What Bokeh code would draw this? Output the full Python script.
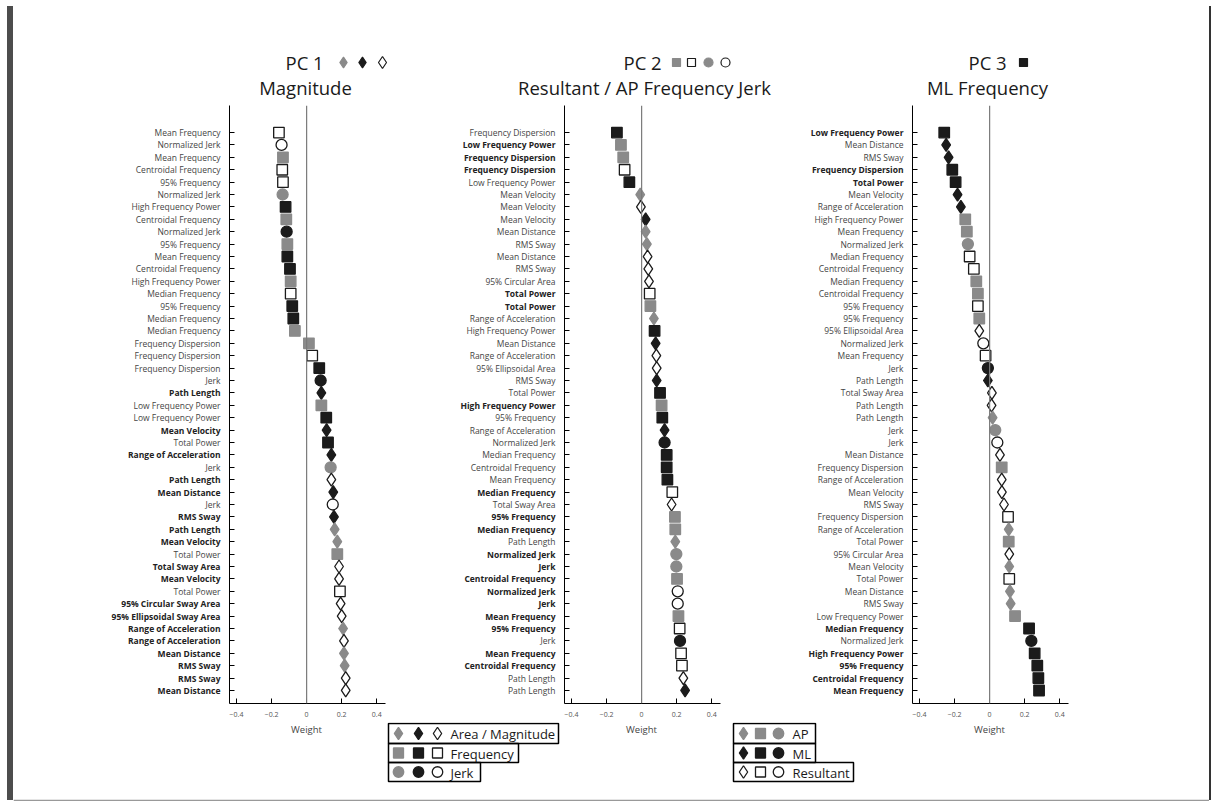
from bokeh.plotting import figure
from bokeh.models import ColumnDataSource, Span, FixedTicker, Range1d, Spacer, CustomJSTickFormatter
from bokeh.layouts import row, column
from bokeh.embed import file_html
from bokeh.resources import INLINE
from bokeh.core.properties import value

# ---------------- data ----------------
# direction: AP / ML / R (resultant); type: A (area/magnitude), F (frequency), J (jerk)
PC1_LABELS = ["Mean Frequency", "Normalized Jerk", "Mean Frequency", "Centroidal Frequency", "95% Frequency",
              "Normalized Jerk", "High Frequency Power", "Centroidal Frequency", "Normalized Jerk", "95% Frequency",
              "Mean Frequency", "Centroidal Frequency", "High Frequency Power", "Median Frequency", "95% Frequency",
              "Median Frequency", "Median Frequency", "Frequency Dispersion", "Frequency Dispersion",
              "Frequency Dispersion", "Jerk", "Path Length", "Low Frequency Power", "Low Frequency Power",
              "Mean Velocity", "Total Power", "Range of Acceleration", "Jerk", "Path Length", "Mean Distance",
              "Jerk", "RMS Sway", "Path Length", "Mean Velocity", "Total Power", "Total Sway Area",
              "Mean Velocity", "Total Power", "95% Circular Sway Area", "95% Ellipsoidal Sway Area",
              "Range of Acceleration", "Range of Acceleration", "Mean Distance", "RMS Sway", "RMS Sway",
              "Mean Distance"]
PC1_BOLD = [0, 0, 0, 0, 0, 0, 0, 0, 0, 0, 0, 0, 0, 0, 0, 0, 0, 0, 0, 0, 0, 1, 0, 0, 1, 0, 1, 0, 1, 1,
            0, 1, 1, 1, 0, 1, 1, 0, 1, 1, 1, 1, 1, 1, 1, 1]
PC1_WEIGHTS = [-0.158, -0.143, -0.135, -0.139, -0.135, -0.137, -0.120, -0.116, -0.114, -0.110,
               -0.110, -0.095, -0.091, -0.091, -0.082, -0.076, -0.067, 0.013, 0.032, 0.072,
               0.080, 0.084, 0.084, 0.112, 0.114, 0.122, 0.141, 0.137, 0.141, 0.152,
               0.149, 0.156, 0.160, 0.175, 0.175, 0.185, 0.185, 0.190, 0.194, 0.200,
               0.208, 0.213, 0.213, 0.217, 0.223, 0.223]
PC1_DIR = ["R", "R", "AP", "R", "R", "AP", "ML", "AP", "ML", "AP", "ML", "ML", "AP", "R", "ML", "ML", "AP",
           "AP", "R", "ML", "ML", "ML", "AP", "ML", "ML", "ML", "ML", "AP", "R", "ML", "R", "ML", "AP", "AP",
           "AP", "R", "R", "R", "R", "R", "AP", "R", "AP", "AP", "R", "R"]
PC1_TYPE = ["F", "J", "F", "F", "F", "J", "F", "F", "J", "F", "F", "F", "F", "F", "F", "F", "F", "F", "F", "F",
            "J", "A", "F", "F", "A", "F", "A", "J", "A", "A", "J", "A", "A", "A", "F", "A", "A", "F", "A", "A",
            "A", "A", "A", "A", "A", "A"]

PC2_LABELS = ["Frequency Dispersion", "Low Frequency Power", "Frequency Dispersion", "Frequency Dispersion",
              "Low Frequency Power", "Mean Velocity", "Mean Velocity", "Mean Velocity", "Mean Distance",
              "RMS Sway", "Mean Distance", "RMS Sway", "95% Circular Area", "Total Power", "Total Power",
              "Range of Acceleration", "High Frequency Power", "Mean Distance", "Range of Acceleration",
              "95% Ellipsoidal Area", "RMS Sway", "Total Power", "High Frequency Power", "95% Frequency",
              "Range of Acceleration", "Normalized Jerk", "Median Frequency", "Centroidal Frequency",
              "Mean Frequency", "Median Frequency", "Total Sway Area", "95% Frequency", "Median Frequency",
              "Path Length", "Normalized Jerk", "Jerk", "Centroidal Frequency", "Normalized Jerk", "Jerk",
              "Mean Frequency", "95% Frequency", "Jerk", "Mean Frequency", "Centroidal Frequency",
              "Path Length", "Path Length"]
PC2_BOLD = [0, 1, 1, 1, 0, 0, 0, 0, 0, 0, 0, 0, 0, 1, 1, 0, 0, 0, 0, 0, 0, 0, 1, 0, 0, 0, 0, 0, 0, 1,
            0, 1, 1, 0, 1, 1, 1, 1, 1, 1, 1, 0, 1, 1, 0, 0]
PC2_WEIGHTS = [-0.141, -0.118, -0.105, -0.097, -0.070, -0.008, -0.004, 0.023, 0.023, 0.030,
               0.034, 0.038, 0.042, 0.046, 0.050, 0.070, 0.074, 0.080, 0.084, 0.086,
               0.086, 0.105, 0.114, 0.118, 0.131, 0.131, 0.143, 0.143, 0.147, 0.175,
               0.171, 0.190, 0.192, 0.192, 0.198, 0.198, 0.202, 0.206, 0.206, 0.210,
               0.217, 0.219, 0.225, 0.230, 0.238, 0.248]
PC2_DIR = ["ML", "AP", "AP", "R", "ML", "AP", "R", "ML", "AP", "AP", "R", "R", "R", "R", "AP", "AP", "ML",
           "ML", "R", "R", "ML", "ML", "AP", "ML", "ML", "ML", "ML", "ML", "ML", "R", "R", "AP", "AP", "AP",
           "AP", "AP", "AP", "R", "R", "AP", "R", "ML", "R", "R", "R", "ML"]
PC2_TYPE = ["F", "F", "F", "F", "F", "A", "A", "A", "A", "A", "A", "A", "A", "F", "F", "A", "F", "A", "A", "A",
            "A", "F", "F", "F", "A", "J", "F", "F", "F", "F", "A", "F", "F", "A", "J", "J", "F", "J", "J", "F",
            "F", "J", "F", "F", "A", "A"]

PC3_LABELS = ["Low Frequency Power", "Mean Distance", "RMS Sway", "Frequency Dispersion", "Total Power",
              "Mean Velocity", "Range of Acceleration", "High Frequency Power", "Mean Frequency",
              "Normalized Jerk", "Median Frequency", "Centroidal Frequency", "Median Frequency",
              "Centroidal Frequency", "95% Frequency", "95% Frequency", "95% Ellipsoidal Area",
              "Normalized Jerk", "Mean Frequency", "Jerk", "Path Length", "Total Sway Area", "Path Length",
              "Path Length", "Jerk", "Jerk", "Mean Distance", "Frequency Dispersion", "Range of Acceleration",
              "Mean Velocity", "RMS Sway", "Frequency Dispersion", "Range of Acceleration", "Total Power",
              "95% Circular Area", "Mean Velocity", "Total Power", "Mean Distance", "RMS Sway",
              "Low Frequency Power", "Median Frequency", "Normalized Jerk", "High Frequency Power",
              "95% Frequency", "Centroidal Frequency", "Mean Frequency"]
PC3_BOLD = [1, 0, 0, 1, 1, 0, 0, 0, 0, 0, 0, 0, 0, 0, 0, 0, 0, 0, 0, 0, 0, 0, 0, 0, 0, 0, 0, 0, 0, 0,
            0, 0, 0, 0, 0, 0, 0, 0, 0, 0, 1, 0, 1, 1, 1, 1]
PC3_WEIGHTS = [-0.259, -0.248, -0.234, -0.213, -0.194, -0.183, -0.164, -0.139, -0.130, -0.124,
               -0.114, -0.090, -0.076, -0.067, -0.067, -0.059, -0.059, -0.036, -0.023, -0.010,
               -0.010, 0.013, 0.011, 0.017, 0.032, 0.044, 0.059, 0.069, 0.069, 0.070,
               0.082, 0.105, 0.109, 0.109, 0.112, 0.112, 0.112, 0.116, 0.120, 0.145,
               0.225, 0.238, 0.257, 0.272, 0.278, 0.282]
PC3_DIR = ["ML", "ML", "ML", "ML", "ML", "ML", "ML", "AP", "AP", "AP", "R", "R", "AP", "AP", "R", "AP", "R",
           "R", "R", "ML", "ML", "R", "R", "AP", "AP", "R", "R", "AP", "R", "R", "R", "R", "AP", "AP", "R",
           "AP", "R", "AP", "AP", "AP", "ML", "ML", "ML", "ML", "ML", "ML"]
PC3_TYPE = ["F", "A", "A", "F", "F", "A", "A", "F", "F", "J", "F", "F", "F", "F", "F", "F", "A", "J", "F", "J",
            "A", "A", "A", "A", "J", "J", "A", "F", "A", "A", "A", "F", "A", "F", "A", "A", "F", "A", "A", "F",
            "F", "J", "F", "F", "F", "F"]

TICKS = [-0.4, -0.2, 0, 0.2, 0.4]
TITLE_TOP = ["PC 1", "PC 2", "PC 3"]
TITLE_BOTTOM = ["Magnitude", "Resultant / AP Frequency Jerk", "ML Frequency"]
AXIS_TITLE = "Weight"
LEGEND_TYPES = ["Area / Magnitude", "Frequency", "Jerk"]
LEGEND_DIRS = ["AP", "ML", "Resultant"]

# ---------------- styles / layout ----------------
GRAY = "#8a8a8a"
BLACK = "#1b1b1b"
FONT = "Open Sans"
FILL = {"AP": GRAY, "ML": BLACK, "R": "white"}
EDGE = {"AP": GRAY, "ML": BLACK, "R": BLACK}
MARK = {"A": "diamond", "F": "square", "J": "circle"}
MSIZE = {"A": 13, "F": 10.5, "J": 11}
XR = (-0.44, 0.45)
YR = (-0.05, 48.18)
X0 = 13              # left edge of the inner content (after page bar)
X1 = 1209            # right edge of the inner content
WIDTH = X1 - X0
TOP_H = 104          # title strip height
ROW_H = 618          # panel row height
BOT_H = 79           # legend strip height
FR_TOP = 1
FR_BOT = 19
FRAME_W = 156
PAGE_BAR = "#4d4d4d"


def base_fig(width, height, xr, yr, top=0, bottom=0):
    f = figure(width=width, height=height, x_range=xr, y_range=yr, output_backend="svg",
               toolbar_location=None, min_border_left=0, min_border_right=0, min_border_top=top,
               min_border_bottom=bottom, x_axis_location=None, y_axis_location=None)
    f.grid.visible = False
    f.outline_line_color = None
    return f


def label_fig(labels, bold, width, yr):
    n = len(labels)
    ys = list(range(n, 0, -1))
    f = base_fig(width, ROW_H, Range1d(0, width), yr, top=FR_TOP, bottom=FR_BOT)
    for flag, style, color in ((0, "normal", "#454545"), (1, "bold", "#222222")):
        idx = [i for i in range(n) if bold[i] == flag]
        f.text(x=[width - 9] * len(idx), y=[ys[i] for i in idx], text=[labels[i] for i in idx],
               text_align="right", text_baseline="middle", text_font=value(FONT),
               text_font_size="8.5px", text_font_style=style, text_color=color)
    return f


def plot_fig(weights, dirs, types, right, yr):
    n = len(weights)
    ys = list(range(n, 0, -1))
    p = figure(width=FRAME_W + right, height=ROW_H, x_range=Range1d(*XR), y_range=yr,
               output_backend="svg", toolbar_location=None,
               min_border_left=0, min_border_right=right, min_border_top=FR_TOP, min_border_bottom=FR_BOT)
    p.grid.visible = False
    p.outline_line_color = None
    xa = p.xaxis[0]
    xa.ticker = FixedTicker(ticks=TICKS)
    xa.major_tick_in = 5
    xa.major_tick_out = 0
    xa.minor_tick_in = 0
    xa.minor_tick_out = 0
    xa.major_label_text_font_size = "7px"
    xa.major_label_text_color = "#555555"
    xa.major_label_text_font = FONT
    xa.major_label_standoff = 8
    xa.axis_line_color = "black"
    xa.axis_line_width = 1.2
    xa.major_tick_line_color = "black"
    ya = p.yaxis[0]
    ya.ticker = FixedTicker(ticks=ys)
    ya.formatter = CustomJSTickFormatter(code="return '';")
    ya.major_tick_in = 5
    ya.major_tick_out = 0
    ya.minor_tick_in = 0
    ya.minor_tick_out = 0
    ya.major_label_standoff = 0
    ya.axis_line_color = "black"
    ya.major_tick_line_color = "black"

    p.add_layout(Span(location=0, dimension="height", line_color="#7a7a7a", line_width=1.2))

    src = ColumnDataSource(dict(
        x=weights, y=ys,
        marker=[MARK[t] for t in types],
        size=[MSIZE[t] for t in types],
        fill=[FILL[d] for d in dirs],
        edge=[EDGE[d] for d in dirs],
    ))
    p.scatter(x="x", y="y", marker="marker", size="size", fill_color="fill", line_color="edge",
              line_width=1.3, source=src)
    return p


yr1, yr2, yr3 = Range1d(*YR), Range1d(*YR), Range1d(*YR)
lab1 = label_fig(PC1_LABELS, PC1_BOLD, 229 - X0, yr1)        # 13..229
plt1 = plot_fig(PC1_WEIGHTS, PC1_DIR, PC1_TYPE, 35, yr1)     # 229..420
lab2 = label_fig(PC2_LABELS, PC2_BOLD, 144, yr2)             # 420..564
plt2 = plot_fig(PC2_WEIGHTS, PC2_DIR, PC2_TYPE, 65, yr2)     # 564..785
lab3 = label_fig(PC3_LABELS, PC3_BOLD, 127, yr3)             # 785..912
plt3 = plot_fig(PC3_WEIGHTS, PC3_DIR, PC3_TYPE, X1 - 912 - FRAME_W, yr3)   # 912..1209

# ---------------- title strip ----------------
t = base_fig(WIDTH, TOP_H, Range1d(X0, X1), Range1d(TOP_H, 0))
t.text(x=[285, 623, 968], y=[62, 62, 62], text=TITLE_TOP, text_font=value(FONT), text_font_size="18.5px",
       text_align="left", text_baseline="middle", text_color="#1a1a1a")
t.text(x=[305, 644, 987], y=[87, 87, 87], text=TITLE_BOTTOM, text_font=value(FONT), text_font_size="18.5px",
       text_align="center", text_baseline="middle", text_color="#1a1a1a")
sym = ColumnDataSource(dict(
    x=[343, 362, 382, 676, 691, 708, 725, 1023],
    y=[62] * 8,
    marker=["diamond", "diamond", "diamond", "square", "square", "circle", "circle", "square"],
    size=[11, 11, 12, 8, 8, 9, 9, 8],
    fill=[GRAY, BLACK, "white", GRAY, "white", GRAY, "white", BLACK],
    edge=[GRAY, BLACK, BLACK, GRAY, BLACK, GRAY, BLACK, BLACK],
))
t.scatter(x="x", y="y", marker="marker", size="size", fill_color="fill", line_color="edge",
          line_width=1.2, source=sym)

# ---------------- bottom strip: axis titles + legends ----------------
y0 = TOP_H + ROW_H
s = base_fig(WIDTH, BOT_H, Range1d(X0, X1), Range1d(y0 + BOT_H, y0))
s.segment(x0=[X0], x1=[X1], y0=[800], y1=[800], line_color="#999999", line_width=1.5)

s.text(x=[306, 641, 989], y=[729, 729, 729], text=[AXIS_TITLE] * 3, text_font=value(FONT),
       text_font_size="9.5px", text_align="center", text_baseline="middle", text_color="#444444")

rows_y = [(723, 743), (743, 762), (762, 781)]
l1_right = [558, 518, 480]
for k, (lab, tp) in enumerate(zip(LEGEND_TYPES, ["A", "F", "J"])):
    top, bot = rows_y[k]
    s.quad(left=[388], right=[l1_right[k]], top=[top], bottom=[bot], fill_color=None,
           line_color="black", line_width=1.5)
    yc = (top + bot) / 2
    for xm, d in zip([398, 418, 437], ["AP", "ML", "R"]):
        s.scatter(x=[xm], y=[yc], marker=MARK[tp], size=MSIZE[tp] - 0.5, fill_color=FILL[d],
                  line_color=EDGE[d], line_width=1.3)
    s.text(x=[450], y=[yc + 0.5], text=[lab], text_font=value(FONT), text_font_size="13px",
           text_baseline="middle", text_color="#1a1a1a")

l2_right = [815, 815, 853]
for k, (lab, d) in enumerate(zip(LEGEND_DIRS, ["AP", "ML", "R"])):
    top, bot = rows_y[k]
    s.quad(left=[733], right=[l2_right[k]], top=[top], bottom=[bot], fill_color=None,
           line_color="black", line_width=1.5)
    yc = (top + bot) / 2
    for xm, tp in zip([743, 760, 778], ["A", "F", "J"]):
        s.scatter(x=[xm], y=[yc], marker=MARK[tp], size=MSIZE[tp] - 0.5, fill_color=FILL[d],
                  line_color=EDGE[d], line_width=1.3)
    s.text(x=[792], y=[yc + 0.5], text=[lab], text_font=value(FONT), text_font_size="13px",
           text_baseline="middle", text_color="#1a1a1a")

inner = column(t, row(lab1, plt1, lab2, plt2, lab3, plt3), s)
pad = Spacer(width=7, height=10, margin=0)
bar_left = Spacer(width=6, height=794, margin=(6, 0, 0, 0), styles={"background-color": PAGE_BAR})
bar_right = Spacer(width=2, height=794, margin=(6, 0, 0, 0), styles={"background-color": "#333333"})
layout = row(pad, bar_left, inner, bar_right)
open("out.html", "w").write(file_html(layout, INLINE))
